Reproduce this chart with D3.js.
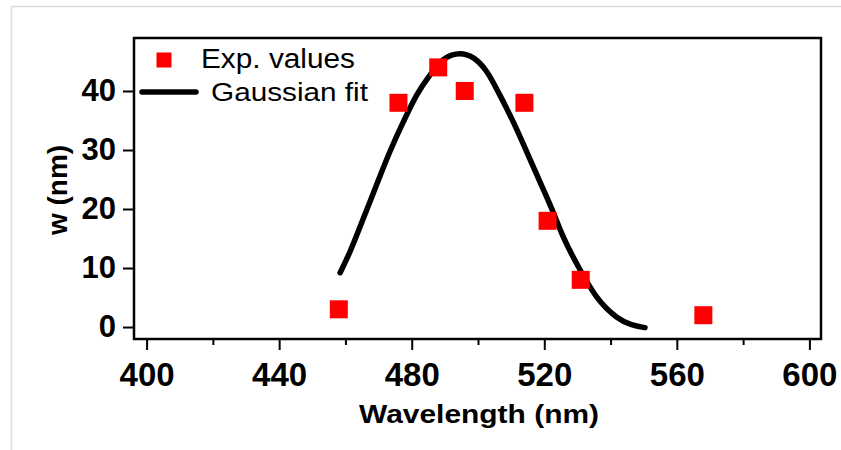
<!DOCTYPE html>
<html>
<head>
<meta charset="utf-8">
<script src="https://cdn.jsdelivr.net/npm/d3@7/dist/d3.min.js"></script>
<style>
  html, body { margin: 0; padding: 0; background: #fff; }
  svg { display: block; }
  text { font-family: "Liberation Sans", Arial, sans-serif; }
</style>
</head>
<body>
<svg id="chart" width="841" height="450"></svg>
<script>
// Measured spectral widths
const expWavelength = [458, 476, 488, 496, 514, 521, 531, 568];
const expWidth      = [3, 38, 44, 40, 38, 18, 8, 2];

// Gaussian fit curve samples
const fitWavelength = [458.4, 461.4, 465.4, 469.4, 473.4, 477.5, 481.5, 485.5, 489.5, 494.6,
                       498.6, 502.6, 506.6, 510.6, 514.7, 518.7, 522.2, 525.7, 530.8, 535.8, 541.8, 550.4];
const fitWidth      = [9.2, 12.8, 18.4, 24.1, 29.7, 34.8, 39.3, 42.7, 45.3, 46.3,
                       45.6, 43.3, 39.3, 34.8, 29.7, 24.6, 20.1, 15.3, 9.7, 5.1, 1.7, -0.1];

// Axis ticks
const xTicks = [400, 440, 480, 520, 560, 600];
const xMinorTicks = [420, 460, 500, 540, 580];
const yTicks = [0, 10, 20, 30, 40];

const legendLabels = ["Exp. values", "Gaussian fit"];
const xTitle = "Wavelength (nm)";
const yTitle = "w (nm)";

const svg = d3.select("#chart");
const frame = { left: 134, right: 821, top: 38, bottom: 339 };

const x = d3.scaleLinear().domain([396.2, 603.5]).range([frame.left, frame.right]);
const y = d3.scaleLinear().domain([-2.03, 48.98]).range([frame.bottom, frame.top]);

// thin outer border of the figure canvas
svg.append("path")
  .attr("d", "M11.5,450 V6.5 H841")
  .attr("fill", "none")
  .attr("stroke", "#dedede")
  .attr("stroke-width", 1.5);

// minor x ticks
const xMinor = svg.append("g")
  .attr("transform", `translate(0,${frame.bottom})`)
  .call(d3.axisBottom(x).tickValues(xMinorTicks).tickSize(6).tickFormat(""));
xMinor.select(".domain").remove();
xMinor.selectAll("line").attr("stroke", "#000").attr("stroke-width", 2);

// major x ticks
const xAxis = svg.append("g")
  .attr("transform", `translate(0,${frame.bottom})`)
  .call(d3.axisBottom(x).tickValues(xTicks).tickSize(11).tickPadding(13).tickFormat(d3.format("d")));
xAxis.select(".domain").remove();
xAxis.selectAll("line").attr("stroke", "#000").attr("stroke-width", 2);
xAxis.selectAll("text")
  .attr("fill", "#000")
  .style("font-size", "33px")
  .style("font-weight", "bold");

// y ticks
const yAxis = svg.append("g")
  .attr("transform", `translate(${frame.left},0)`)
  .call(d3.axisLeft(y).tickValues(yTicks).tickSize(11).tickPadding(7).tickFormat(d3.format("d")));
yAxis.select(".domain").remove();
yAxis.selectAll("line").attr("stroke", "#000").attr("stroke-width", 2);
yAxis.selectAll("text")
  .attr("fill", "#000")
  .style("font-size", "31px")
  .style("font-weight", "bold");

// plot frame
svg.append("rect")
  .attr("x", frame.left)
  .attr("y", frame.top)
  .attr("width", frame.right - frame.left)
  .attr("height", frame.bottom - frame.top)
  .attr("fill", "none")
  .attr("stroke", "#000")
  .attr("stroke-width", 2.5);

// Gaussian fit line
const fitData = fitWavelength.map((w, i) => [w, fitWidth[i]]);
svg.append("path")
  .datum(fitData)
  .attr("fill", "none")
  .attr("stroke", "#000")
  .attr("stroke-width", 5.5)
  .attr("stroke-linecap", "round")
  .attr("stroke-linejoin", "round")
  .attr("d", d3.line().x(d => x(d[0])).y(d => y(d[1])).curve(d3.curveMonotoneX));

// experimental points
const markerSize = 18;
svg.append("g")
  .selectAll("rect")
  .data(expWavelength.map((w, i) => [w, expWidth[i]]))
  .join("rect")
  .attr("x", d => x(d[0]) - markerSize / 2)
  .attr("y", d => y(d[1]) - markerSize / 2)
  .attr("width", markerSize)
  .attr("height", markerSize)
  .attr("fill", "#ff0000");

// legend
const legend = svg.append("g");
legend.append("rect")
  .attr("x", 156.5).attr("y", 52.5)
  .attr("width", 15).attr("height", 15)
  .attr("fill", "#ff0000");
legend.append("text")
  .attr("x", 201).attr("y", 67.5)
  .attr("textLength", 154)
  .attr("lengthAdjust", "spacingAndGlyphs")
  .style("font-size", "27px")
  .attr("fill", "#000")
  .text(legendLabels[0]);
legend.append("line")
  .attr("x1", 142).attr("x2", 196)
  .attr("y1", 92).attr("y2", 92)
  .attr("stroke", "#000")
  .attr("stroke-width", 5.5)
  .attr("stroke-linecap", "round");
legend.append("text")
  .attr("x", 211).attr("y", 101)
  .attr("textLength", 157)
  .attr("lengthAdjust", "spacingAndGlyphs")
  .style("font-size", "26px")
  .attr("fill", "#000")
  .text(legendLabels[1]);

// axis titles
svg.append("text")
  .attr("x", 479).attr("y", 423)
  .attr("text-anchor", "middle")
  .attr("textLength", 240)
  .attr("lengthAdjust", "spacingAndGlyphs")
  .style("font-size", "26px")
  .style("font-weight", "bold")
  .attr("fill", "#000")
  .text(xTitle);

svg.append("text")
  .attr("transform", "translate(67,190) rotate(-90)")
  .attr("text-anchor", "middle")
  .style("font-size", "28px")
  .style("font-weight", "bold")
  .attr("fill", "#000")
  .text(yTitle);
</script>
</body>
</html>
